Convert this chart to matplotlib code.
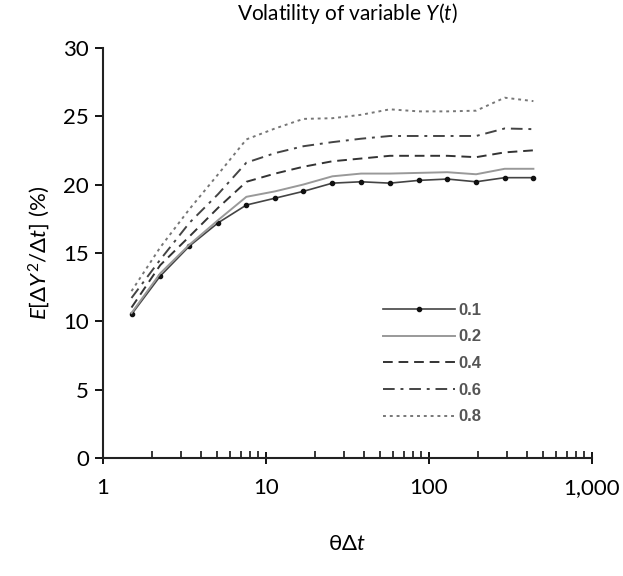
import matplotlib
matplotlib.use("Agg")
import matplotlib.pyplot as plt
from matplotlib.ticker import FixedLocator, LogLocator, NullFormatter

plt.rcParams['font.family'] = ['Lato', 'DejaVu Sans']
plt.rcParams['mathtext.fontset'] = 'custom'
plt.rcParams['mathtext.rm'] = 'Lato'
plt.rcParams['mathtext.it'] = 'Lato:italic'

# theta * dt
x = [1.5, 2.25, 3.4, 5.1, 7.6, 11.4, 17, 25.6, 38.4, 57.7, 86.5, 130, 195, 292, 438]

y01 = [10.5, 13.3, 15.5, 17.2, 18.5, 19.0, 19.5, 20.1, 20.2, 20.1, 20.3, 20.4, 20.2, 20.5, 20.5]
y02 = [10.6, 13.5, 15.6, 17.4, 19.1, 19.5, 20.0, 20.6, 20.8, 20.8, 20.85, 20.9, 20.75, 21.15, 21.15]
y04 = [11.0, 14.1, 16.2, 18.3, 20.2, 20.8, 21.3, 21.7, 21.9, 22.1, 22.1, 22.1, 22.0, 22.35, 22.5]
y06 = [11.7, 14.5, 17.2, 19.3, 21.6, 22.3, 22.8, 23.1, 23.35, 23.55, 23.55, 23.55, 23.55, 24.1, 24.05]
y08 = [12.2, 15.4, 18.2, 20.75, 23.3, 24.1, 24.8, 24.85, 25.1, 25.5, 25.35, 25.35, 25.4, 26.35, 26.1]

labels = ['0.1', '0.2', '0.4', '0.6', '0.8']
xticks = [1, 10, 100, 1000]
xticklabels = ['1', '10', '100', '1,000']

fig = plt.figure(figsize=(6.23, 5.76), dpi=100)
ax = fig.add_axes([0.165, 0.205, 0.785, 0.712])

ax.plot(x, y01, color='#444444', lw=1.2, marker='o', ms=3, mfc='#111111', mec='#111111', label=labels[0])
ax.plot(x, y02, color='#999999', lw=1.4, label=labels[1])
ax.plot(x, y04, color='#333333', lw=1.4, ls=(0, (5, 3)), label=labels[2])
ax.plot(x, y06, color='#444444', lw=1.4, ls=(0, (6, 3, 1.5, 3)), label=labels[3])
ax.plot(x, y08, color='#777777', lw=1.4, ls=(0, (1.5, 2)), label=labels[4])

ax.set_xscale('log')
ax.set_xlim(1, 1000)
ax.set_ylim(0, 30)
ax.xaxis.set_major_locator(FixedLocator(xticks))
ax.set_xticklabels(xticklabels)
ax.xaxis.set_minor_locator(LogLocator(base=10, subs=range(2, 10)))
ax.xaxis.set_minor_formatter(NullFormatter())
ax.set_yticks(range(0, 31, 5))

for s in ['top', 'right']:
    ax.spines[s].set_visible(False)
for s in ['left', 'bottom']:
    ax.spines[s].set_linewidth(1.5)
    ax.spines[s].set_color('#222222')

ax.tick_params(axis='x', which='major', direction='inout', length=9, width=1.3, labelsize=16, pad=10)
ax.tick_params(axis='x', which='minor', direction='in', length=5, width=1.1)
ax.tick_params(axis='y', which='major', direction='out', length=6, width=1.3, labelsize=16, pad=4)

ax.set_title(r'Volatility of variable $Y(t)$', fontsize=15, pad=20)
ax.set_ylabel(r'$E[\Delta Y^2/\Delta t]$ (%)', fontsize=16, labelpad=8)
ax.set_xlabel(r'θΔ$t$', fontsize=16, labelpad=26)

leg = ax.legend(loc='lower right', bbox_to_anchor=(0.805, 0.045), frameon=False, handlelength=4.3,
                labelspacing=0.7, handletextpad=0.2, prop={'family': 'Liberation Sans', 'size': 12, 'weight': 'bold'})
for t in leg.get_texts():
    t.set_color('#555555')

fig.savefig('out.png', dpi=100)
